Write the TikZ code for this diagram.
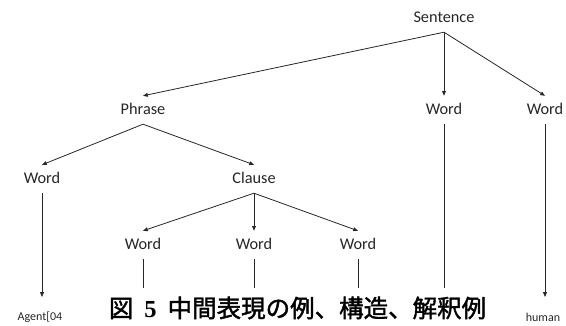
\documentclass[tikz,border=0pt]{standalone}
\usepackage{fontspec}
\setmainfont{Carlito}
\newfontfamily\jpfont[FakeBold=1.6]{Noto Sans CJK JP}
\newfontfamily\numfont{Liberation Serif}
\usetikzlibrary{arrows.meta}
\definecolor{ink}{HTML}{262626}
\tikzset{
  lbl/.style={inner sep=0pt, minimum height=28pt, text height=11.5pt, text depth=3pt,
              font=\fontsize{16.3}{18}\selectfont, text=ink, anchor=center},
  leaf/.style={inner sep=0pt, font=\fontsize{12}{14}\selectfont, text=ink},
  arr/.style={draw=ink, line width=0.8pt, -{Triangle[length=4.8pt,width=3.8pt]}},
  ln/.style={draw=ink, line width=0.8pt},
}
\begin{document}
\begin{tikzpicture}[x=1pt,y=-1pt]
\useasboundingbox (0,0) rectangle (566,325);
\node[lbl] (sent) at (444,18) {Sentence};
\node[lbl] (phrase) at (143,110) {Phrase};
\node[lbl] (w2) at (444,110) {Word};
\node[lbl] (w3) at (545,110) {Word};
\node[lbl] (wl) at (42,179) {Word};
\node[lbl] (clause) at (254,179) {Clause};
\node[lbl] (c1) at (143,245) {Word};
\node[lbl] (c2) at (254,245) {Word};
\node[lbl] (c3) at (358,245) {Word};
\coordinate (aend) at (42,297);
\coordinate (hend) at (545,297);
\coordinate (e1) at (143,288);
\coordinate (e2) at (254,288);
\coordinate (e3) at (358,288);
\coordinate (e4) at (444,288);
\node[leaf] (agent) at (40,317) {Agent[04};
\node[leaf] (human) at (543,317) {human};
\draw[arr] (sent.south) -- (phrase.north);
\draw[arr] (sent.south) -- (w2.north);
\draw[arr] (sent.south) -- (w3.north);
\draw[arr] (phrase.south) -- (wl.north);
\draw[arr] (phrase.south) -- (clause.north);
\draw[arr] (clause.south) -- (c1.north);
\draw[arr] (clause.south) -- (c2.north);
\draw[arr] (clause.south) -- (c3.north);
\draw[arr] (wl.south) -- (aend);
\draw[arr] (w3.south) -- (hend);
\draw[ln] (c1.south) -- (e1);
\draw[ln] (c2.south) -- (e2);
\draw[ln] (c3.south) -- (e3);
\draw[ln] (w2.south) -- (e4);
\node[inner sep=0pt, font=\jpfont\fontsize{24.5}{28}\selectfont, text=black] (cap) at (297.5,308)
  {図\hspace{0.45em}{\numfont\bfseries 5}\hspace{0.45em}中間表現の例、構造、解釈例};
\end{tikzpicture}
\end{document}
